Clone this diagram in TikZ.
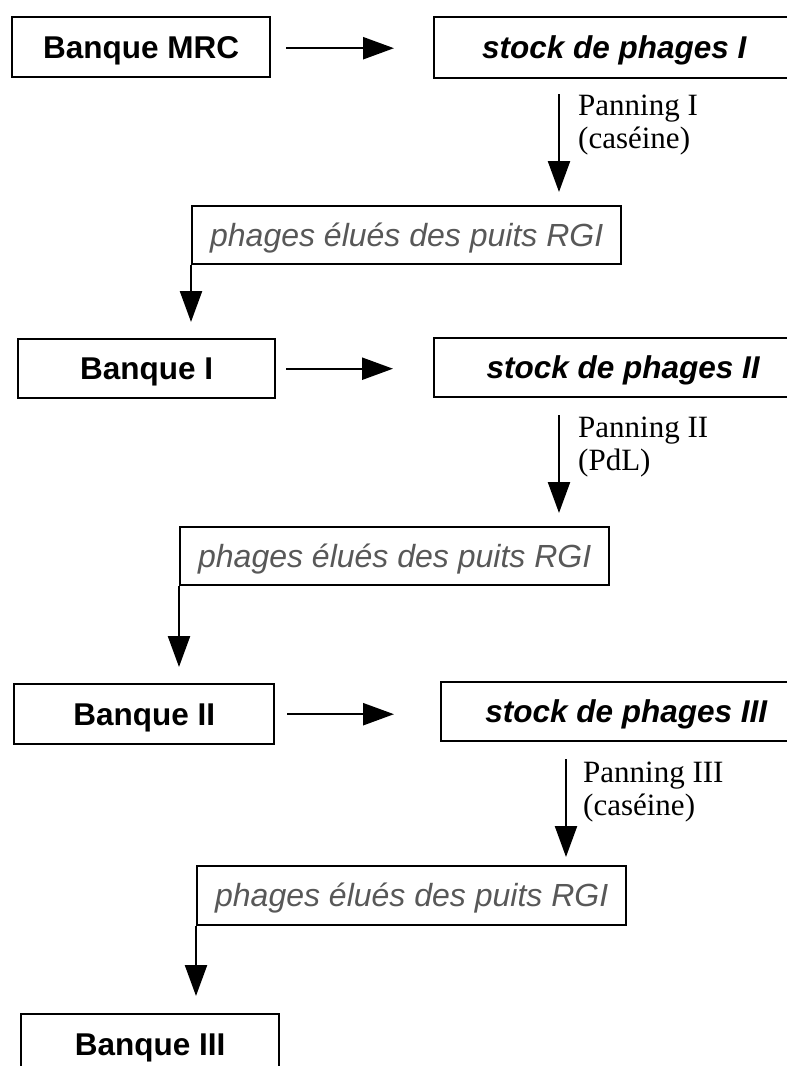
\documentclass[tikz,border=0pt]{standalone}
\usepackage{fontspec}
\setmainfont{Liberation Serif}
\newfontfamily\arialfont{Liberation Sans}
\usetikzlibrary{arrows.meta,calc}
\definecolor{elugray}{RGB}{88,88,88}
\tikzset{
  box/.style={draw, line width=2.4pt, inner sep=0pt, anchor=north west,
    text height=22.5pt, text depth=0pt},
  bankbox/.style={box, font=\arialfont\bfseries\fontsize{31.5}{36}\selectfont},
  stockbox/.style={box, font=\arialfont\bfseries\itshape\fontsize{31.5}{36}\selectfont},
  elubox/.style={box, text=elugray, minimum width=429pt,
    font=\arialfont\itshape\fontsize{32}{36}\selectfont},
  arr/.style={line width=2.4pt, -{Triangle[length=31pt,width=22pt]}},
  panlabel/.style={anchor=north west, inner sep=0pt, align=left,
    font=\fontsize{31}{33}\selectfont}
}
\begin{document}
\begin{tikzpicture}[x=1pt,y=-1pt]
  \useasboundingbox (0,0) rectangle (787,1066);
  \clip (0,0) rectangle (787,1066);
  \fill[white] (0,0) rectangle (787,1066);

  % first round
  \node[bankbox, minimum width=258pt, minimum height=60pt] (mrc) at (11,16) {Banque MRC};
  \node[stockbox, minimum width=360pt, minimum height=61pt] (stockI) at (433,16) {stock de phages I};
  \node[elubox, minimum height=58pt] (eluA) at (191,205) {phages élués des puits RGI};
  \coordinate (panA) at (559,0);
  \node[panlabel] (labA) at (578,95) {Panning I\\(caséine)};

  % second round
  \node[bankbox, minimum width=257pt, minimum height=59pt] (bankI) at (17,338) {Banque I};
  \node[stockbox, minimum width=378pt, minimum height=59pt] (stockII) at (433,337) {stock de phages II};
  \node[elubox, minimum height=58pt] (eluB) at (179,526) {phages élués des puits RGI};
  \coordinate (panB) at (559,0);
  \node[panlabel] (labB) at (578,417) {Panning II\\(PdL)};

  % third round
  \node[bankbox, minimum width=260pt, minimum height=60pt] (bankII) at (13,683) {Banque II};
  \node[stockbox, minimum width=370pt, minimum height=59pt] (stockIII) at (440,681) {stock de phages III};
  \node[elubox, minimum height=59pt] (eluC) at (196,865) {phages élués des puits RGI};
  \coordinate (panC) at (566,0);
  \node[panlabel] (labC) at (583,762) {Panning III\\(caséine)};

  \node[bankbox, minimum width=258pt, minimum height=60pt] (bankIII) at (20,1013) {Banque III};

  % library -> phage stock
  \draw[arr, shorten <=15pt, shorten >=39pt] ([yshift=-1pt]mrc.east) -- ([yshift=-1pt]mrc.east -| stockI.west);
  \draw[arr, shorten <=10pt, shorten >=40pt] (bankI.east) -- (bankI.east -| stockII.west);
  \draw[arr, shorten <=12pt, shorten >=46pt] (bankII.east) -- (bankII.east -| stockIII.west);

  % panning steps
  \draw[arr, shorten <=15pt, shorten >=13pt] (panA |- stockI.south) -- (panA |- eluA.north);
  \draw[arr, shorten <=17pt, shorten >=13pt] (panB |- stockII.south) -- (panB |- eluB.north);
  \draw[arr, shorten <=17pt, shorten >=8pt] (panC |- stockIII.south) -- (panC |- eluC.north);

  % eluted phages -> next library
  \draw[arr, shorten >=16pt] (eluA.south west) -- (eluA.south west |- bankI.north);
  \draw[arr, shorten >=16pt] (eluB.south west) -- (eluB.south west |- bankII.north);
  \draw[arr, shorten >=17pt] (eluC.south west) -- (eluC.south west |- bankIII.north);
\end{tikzpicture}
\end{document}
